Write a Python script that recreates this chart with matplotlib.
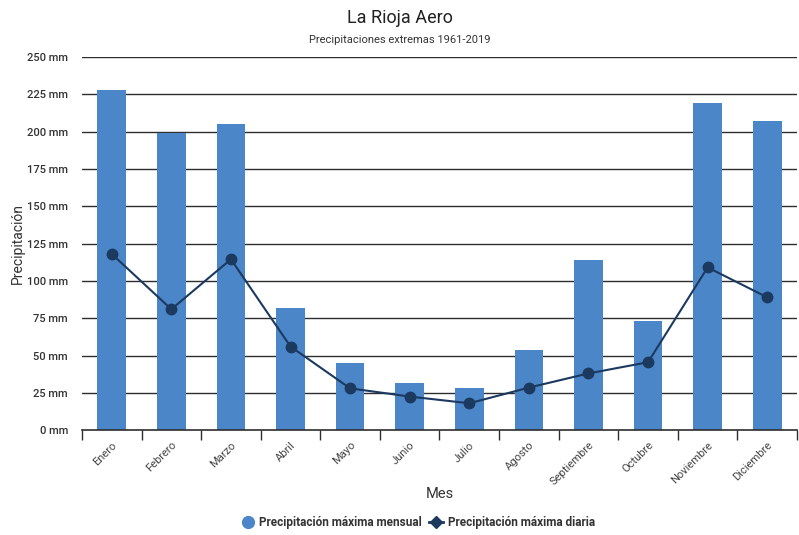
import numpy as np
import matplotlib.pyplot as plt
from matplotlib.lines import Line2D
from matplotlib.ticker import FixedLocator

plt.rcParams['font.family'] = ['Roboto', 'DejaVu Sans']

MESES = ['Enero', 'Febrero', 'Marzo', 'Abril', 'Mayo', 'Junio', 'Julio',
         'Agosto', 'Septiembre', 'Octubre', 'Noviembre', 'Diciembre']
MAX_MENSUAL = [228, 199, 205, 82, 45, 31.5, 28, 53.5, 114, 73, 219, 207]
MAX_DIARIA = [118, 81, 114.5, 56, 28, 22.5, 18, 28.5, 38, 45.5, 109, 89]
Y_TICKS = [0, 25, 50, 75, 100, 125, 150, 175, 200, 225, 250]

BAR_COLOR = '#4a86c8'
LINE_COLOR = '#1c3960'
GRID_COLOR = '#2e2e2e'
TEXT_COLOR = '#333333'

fig = plt.figure(figsize=(7.99, 5.35), dpi=100, facecolor='white')
ax = fig.add_axes([0.1026, 0.196, 0.8949, 0.6975])

x = np.arange(len(MESES))
ax.bar(x, MAX_MENSUAL, width=0.48, color=BAR_COLOR, zorder=2)
ax.plot(x, MAX_DIARIA, color=LINE_COLOR, lw=1.5, marker='o', ms=7.5, zorder=3)

ax.set_xlim(-0.5, len(MESES) - 0.5)
ax.set_ylim(0, 250)
ax.set_yticks(Y_TICKS)
ax.set_yticklabels([f'{v} mm' for v in Y_TICKS])
ax.tick_params(axis='y', length=0, pad=10, labelsize=8, labelcolor=TEXT_COLOR)
for lbl in ax.get_yticklabels():
    lbl.set_fontweight('medium')
for v in Y_TICKS[1:]:
    ax.axhline(v, color=GRID_COLOR, lw=1, zorder=1)

# category labels at centres, tick marks at category boundaries
ax.set_xticks(x)
ax.set_xticklabels(MESES, rotation=45, ha='right', rotation_mode='anchor')
ax.tick_params(axis='x', which='major', length=0, pad=7, labelsize=8,
               labelcolor='#444444')
ax.xaxis.set_minor_locator(FixedLocator(np.arange(-0.5, len(MESES) + 0.5, 1)))
ax.tick_params(axis='x', which='minor', length=7, width=1, color=GRID_COLOR)

for s in ['top', 'right', 'left']:
    ax.spines[s].set_visible(False)
ax.spines['bottom'].set_color(GRID_COLOR)
ax.spines['bottom'].set_linewidth(1.2)

ax.set_ylabel('Precipitación', fontsize=10, color=TEXT_COLOR)
ax.yaxis.set_label_coords(-0.08, 0.5)
ax.set_xlabel('Mes', fontsize=10.5, color=TEXT_COLOR)
ax.xaxis.set_label_coords(0.5, -0.153)

fig.text(0.5, 0.967, 'La Rioja Aero', ha='center', va='center',
         fontsize=13, color='#222222')
fig.text(0.5, 0.925, 'Precipitaciones extremas 1961-2019', ha='center',
         va='center', fontsize=8, color=TEXT_COLOR)

handles = [
    Line2D([], [], ls='none', marker='o', ms=8.5, color=BAR_COLOR),
    Line2D([], [], color=LINE_COLOR, lw=2, marker='D', ms=6.5),
]
fig.legend(handles, ['Precipitación máxima mensual', 'Precipitación máxima diaria'],
           loc='center', bbox_to_anchor=(0.523, 0.024), ncol=2, frameon=False,
           prop={'size': 8.5, 'weight': 'bold'}, handlelength=1.2,
           handletextpad=0.4, columnspacing=0.6, labelcolor=TEXT_COLOR)

fig.savefig('out.png', dpi=100, facecolor='white')
